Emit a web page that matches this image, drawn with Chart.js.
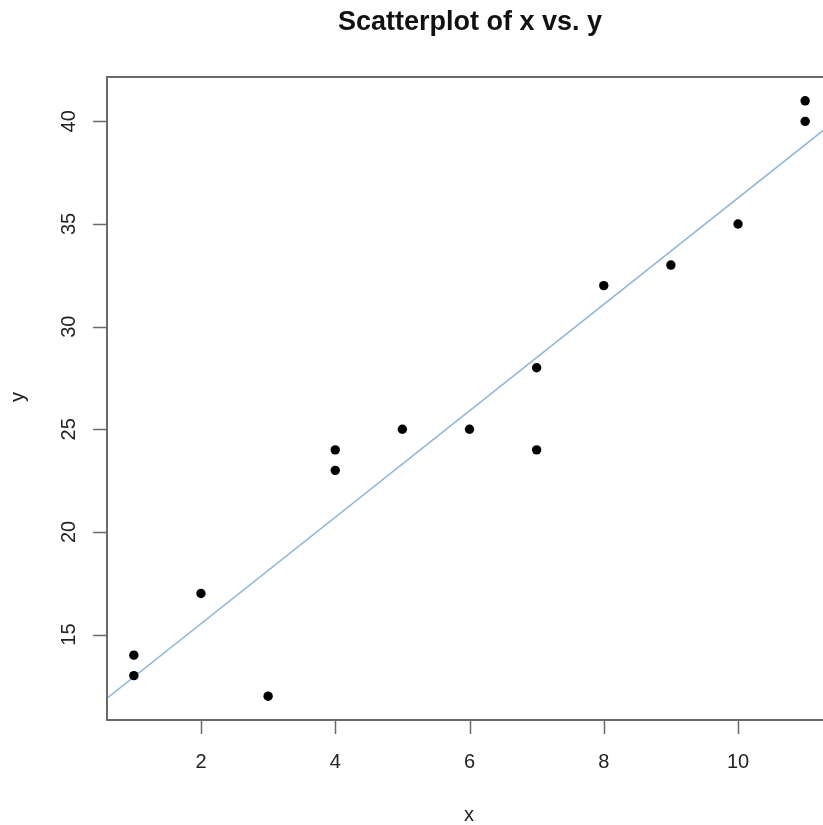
<!DOCTYPE html>
<html>
<head>
<meta charset="utf-8">
<script src="https://cdn.jsdelivr.net/npm/chart.js@4/dist/chart.umd.min.js"></script>
<style>
    html, body { margin: 0; padding: 0; background: #fff; overflow: hidden; }
    #wrap { width: 823px; height: 825px; overflow: hidden; }
    #box { width: 850px; height: 825px; }
</style>
</head>
<body>
<div id="wrap"><div id="box"><canvas id="scatterChart"></canvas></div></div>
<script>
// observed points
const xValues = [1, 1, 2, 3, 4, 4, 5, 6, 7, 7, 8, 9, 10, 11, 11];
const yValues = [13, 14, 17, 12, 23, 24, 25, 25, 24, 28, 32, 33, 35, 40, 41];

// fitted line, end points
const fitX = [0.6, 11.4];
const fitY = [11.9, 39.9];

// axis ticks and ranges
const xTicks = [2, 4, 6, 8, 10];
const yTicks = [15, 20, 25, 30, 35, 40];
const xRange = [0.6, 11.4];
const yRange = [10.84, 42.16];

const axisColor = '#6a6a6a';
const textColor = '#222222';
const fontFamily = '"Liberation Sans", Arial, Helvetica, sans-serif';

const rDecorations = {
    id: 'rDecorations',
    afterDraw(chart) {
        const { ctx, chartArea, scales } = chart;
        const xs = scales.x, ys = scales.y;
        ctx.save();

        // box around plot
        ctx.strokeStyle = axisColor;
        ctx.lineWidth = 2;
        ctx.strokeRect(chartArea.left, chartArea.top, chartArea.right - chartArea.left, chartArea.bottom - chartArea.top);

        // tick marks
        ctx.beginPath();
        xTicks.forEach(v => {
            const px = Math.round(xs.getPixelForValue(v)) + 0.5;
            ctx.moveTo(px, chartArea.bottom);
            ctx.lineTo(px, chartArea.bottom + 14);
        });
        yTicks.forEach(v => {
            const py = Math.round(ys.getPixelForValue(v)) + 0.5;
            ctx.moveTo(chartArea.left, py);
            ctx.lineTo(chartArea.left - 14, py);
        });
        ctx.lineWidth = 1.5;
        ctx.stroke();

        // tick labels
        ctx.fillStyle = textColor;
        ctx.font = '20px ' + fontFamily;
        ctx.textAlign = 'center';
        ctx.textBaseline = 'middle';
        xTicks.forEach(v => {
            ctx.fillText(String(v), xs.getPixelForValue(v), 762);
        });
        yTicks.forEach(v => {
            ctx.save();
            ctx.translate(69, ys.getPixelForValue(v));
            ctx.rotate(-Math.PI / 2);
            ctx.fillText(String(v), 0, 0);
            ctx.restore();
        });

        // axis titles
        ctx.fillText('x', 469, 815);
        ctx.save();
        ctx.translate(18, 397);
        ctx.rotate(-Math.PI / 2);
        ctx.fillText('y', 0, 0);
        ctx.restore();

        // main title
        ctx.font = 'bold 27px ' + fontFamily;
        ctx.fillStyle = '#111111';
        ctx.fillText('Scatterplot of x vs. y', 470, 23);

        ctx.restore();
    }
};

document.addEventListener('DOMContentLoaded', function () {
    const points = xValues.map((x, i) => ({ x: x, y: yValues[i] }));
    const fitLine = fitX.map((x, i) => ({ x: x, y: fitY[i] }));

    new Chart(document.getElementById('scatterChart'), {
        type: 'scatter',
        data: {
            datasets: [{
                label: 'fit',
                type: 'line',
                data: fitLine,
                borderColor: '#8fb8dc',
                borderWidth: 1.6,
                pointRadius: 0,
                fill: false,
                order: 2
            }, {
                label: 'y',
                data: points,
                backgroundColor: '#000000',
                borderColor: '#000000',
                pointRadius: 4.7,
                borderWidth: 0,
                order: 1
            }]
        },
        options: {
            responsive: true,
            maintainAspectRatio: false,
            animation: false,
            layout: {
                padding: { left: 107, top: 77, right: 18, bottom: 105 }
            },
            plugins: {
                legend: { display: false },
                tooltip: { enabled: false },
                title: { display: false }
            },
            scales: {
                x: {
                    type: 'linear',
                    display: false,
                    min: xRange[0],
                    max: xRange[1]
                },
                y: {
                    type: 'linear',
                    display: false,
                    min: yRange[0],
                    max: yRange[1]
                }
            }
        },
        plugins: [rDecorations]
    });
});
</script>
</body>
</html>
